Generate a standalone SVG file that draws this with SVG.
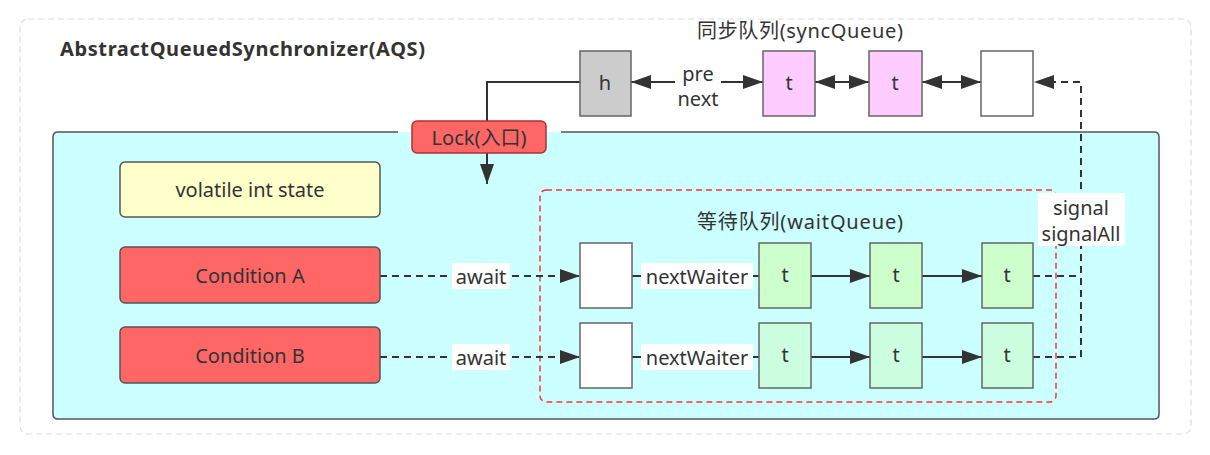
<svg xmlns="http://www.w3.org/2000/svg" width="1210" height="455" viewBox="0 0 1210 455">
<style>
text{font-family:"Noto Sans","Noto Sans CJK SC",sans-serif;fill:#333;font-size:20px;text-anchor:middle;dominant-baseline:central}
.node{stroke:#555;stroke-width:1.5}
.q{stroke:#666;stroke-width:1.5}
.ln{fill:none;stroke:#333;stroke-width:2}
.dash{stroke-dasharray:7 5}
.lbl{fill:#fff}
</style>
<defs>
<marker id="ah" markerUnits="userSpaceOnUse" markerWidth="21" markerHeight="14" refX="20" refY="7" orient="auto-start-reverse" viewBox="0 0 21 14">
<path d="M0,0 L20,7 L0,14 z" fill="#333"/>
</marker>
</defs>
<rect width="1210" height="455" fill="#fff"/>
<g id="frame">
<rect x="20" y="19" width="1171" height="415" rx="8" fill="none" stroke="#ddd" stroke-width="1.2" stroke-dasharray="6 4"/>
<text x="60" y="48" style="font-weight:bold;text-anchor:start;font-size:20px" textLength="365">AbstractQueuedSynchronizer(AQS)</text>
</g>
<g id="aqs-body">
<rect x="53" y="132" width="1106" height="287" rx="5" fill="#ccffff"/>
<path d="M398,132 H58 Q53,132 53,137 V414 Q53,419 58,419 H1154 Q1159,419 1159,414 V137 Q1159,132 1154,132 H561" fill="none" stroke="#555" stroke-width="1.5"/>
</g>
<g id="labels">
<text x="800" y="30" textLength="206">同步队列(syncQueue)</text>
<text x="800" y="221" textLength="206">等待队列(waitQueue)</text>
</g>
<g id="wait-queue-box">
<rect x="540" y="190" width="516" height="212" rx="6" fill="none" stroke="#f33" stroke-width="1.5" stroke-dasharray="6 4"/>
</g>
<g id="connectors">
<path class="ln" d="M580,82 H487 V121"/>
<path class="ln" d="M487,153 V184" marker-end="url(#ah)"/>
<path class="ln" d="M763,82 H631" marker-start="url(#ah)" marker-end="url(#ah)"/>
<path class="ln" d="M815,82 H869" marker-start="url(#ah)" marker-end="url(#ah)"/>
<path class="ln" d="M922,82 H981" marker-start="url(#ah)" marker-end="url(#ah)"/>
<path class="ln dash" d="M1033,276 H1081 M1033,357 H1081 V82 H1034" marker-end="url(#ah)"/>
<path class="ln dash" d="M380,276 H580" marker-end="url(#ah)"/>
<path class="ln dash" d="M380,357 H580" marker-end="url(#ah)"/>
<path class="ln" d="M632,276 H759"/>
<path class="ln" d="M632,357 H759"/>
<path class="ln" d="M811,276 H870" marker-end="url(#ah)"/>
<path class="ln" d="M922,276 H982" marker-end="url(#ah)"/>
<path class="ln" d="M811,357 H870" marker-end="url(#ah)"/>
<path class="ln" d="M922,357 H982" marker-end="url(#ah)"/>
<rect class="lbl" x="675" y="61" width="46" height="50"/>
<text x="698" y="73">pre</text>
<text x="698" y="98">next</text>
<rect class="lbl" x="452" y="263" width="58" height="26"/>
<text x="481" y="276">await</text>
<rect class="lbl" x="452" y="344" width="58" height="26"/>
<text x="481" y="357">await</text>
<rect class="lbl" x="641" y="263" width="112" height="26"/>
<text x="697" y="276">nextWaiter</text>
<rect class="lbl" x="641" y="344" width="112" height="26"/>
<text x="697" y="357">nextWaiter</text>
<rect class="lbl" x="1038" y="193" width="87" height="53"/>
<text x="1081" y="207">signal</text>
<text x="1081" y="233">signalAll</text>
</g>
<g id="lock">
<rect x="412" y="121" width="134" height="32" rx="5" fill="#ff6666" stroke="#a33" stroke-width="1.5"/>
<text x="479" y="137">Lock(入口)</text>
</g>
<g id="state">
<rect class="node" x="120" y="162" width="260" height="55" rx="5" fill="#ffffcc"/>
<text x="250" y="189">volatile int state</text>
</g>
<g id="condA">
<rect class="node" x="120" y="247" width="260" height="56" rx="5" fill="#ff6666"/>
<text x="250" y="275">Condition A</text>
</g>
<g id="condB">
<rect class="node" x="120" y="327" width="260" height="56" rx="5" fill="#ff6666"/>
<text x="250" y="355">Condition B</text>
</g>
<g id="sync-h"><rect class="q" x="580" y="51" width="51" height="65" fill="#cccccc"/><text x="605" y="82">h</text></g>
<g id="sync-t1"><rect class="q" x="763" y="51" width="52" height="65" fill="#ffccff"/><text x="789" y="82">t</text></g>
<g id="sync-t2"><rect class="q" x="869" y="51" width="53" height="65" fill="#ffccff"/><text x="895" y="82">t</text></g>
<g id="sync-tail"><rect class="q" x="981" y="51" width="52" height="65" fill="#fff"/></g>
<g id="waitA-head"><rect class="q" x="580" y="243" width="52" height="65" fill="#fff"/></g>
<g id="waitA-t1"><rect class="q" x="759" y="243" width="52" height="65" fill="#ccffcc"/><text x="785" y="274">t</text></g>
<g id="waitA-t2"><rect class="q" x="870" y="243" width="52" height="65" fill="#ccffcc"/><text x="896" y="274">t</text></g>
<g id="waitA-t3"><rect class="q" x="982" y="243" width="51" height="65" fill="#ccffcc"/><text x="1007" y="274">t</text></g>
<g id="waitB-head"><rect class="q" x="580" y="323" width="52" height="65" fill="#fff"/></g>
<g id="waitB-t1"><rect class="q" x="759" y="323" width="52" height="65" fill="#ccffe0"/><text x="785" y="354">t</text></g>
<g id="waitB-t2"><rect class="q" x="870" y="323" width="52" height="65" fill="#ccffe0"/><text x="896" y="354">t</text></g>
<g id="waitB-t3"><rect class="q" x="982" y="323" width="51" height="65" fill="#ccffe0"/><text x="1007" y="354">t</text></g>
</svg>
